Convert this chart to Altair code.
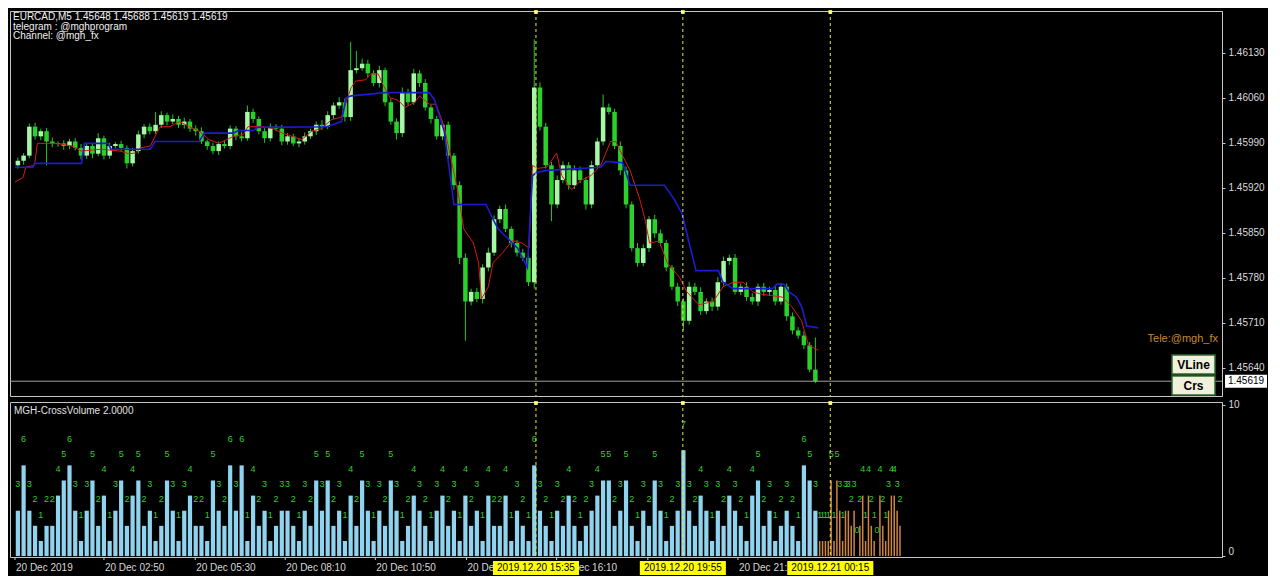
import altair as alt
import pandas as pd

# ---------------- data ----------------
first_open = 1.45955
close = [
    1.45962, 1.45970, 1.46015, 1.46000, 1.46008, 1.45992, 1.45988, 1.45989, 1.45985, 1.45992,
    1.45982, 1.45970, 1.45985, 1.45973, 1.45997, 1.45970, 1.45985, 1.45988, 1.45982, 1.45958,
    1.45977, 1.46003, 1.46015, 1.46008, 1.46018, 1.46033, 1.46023, 1.46027, 1.46018, 1.46023,
    1.46012, 1.46008, 1.45992, 1.45985, 1.45977, 1.45988, 1.45985, 1.46012, 1.46000, 1.45997,
    1.46038, 1.46027, 1.46008, 1.45997, 1.46015, 1.46012, 1.45992, 1.46000, 1.45989, 1.45992,
    1.46000, 1.46008, 1.46018, 1.46015, 1.46033, 1.46048, 1.46053, 1.46030, 1.46103, 1.46106,
    1.46113, 1.46098, 1.46083, 1.46103, 1.46053, 1.46023, 1.46005, 1.46068, 1.46053, 1.46098,
    1.46083, 1.46045, 1.46027, 1.46000, 1.46018, 1.45970, 1.45924, 1.45811, 1.45743, 1.45758,
    1.45747, 1.45796, 1.45819, 1.45871, 1.45887, 1.45856, 1.45834, 1.45819, 1.45811, 1.45773,
    1.46076, 1.46015, 1.45955, 1.45894, 1.45932, 1.45955, 1.45924, 1.45947, 1.45932, 1.45894,
    1.45955, 1.45992, 1.46045, 1.46038, 1.45985, 1.45947, 1.45894, 1.45826, 1.45803, 1.45826,
    1.45871, 1.45849, 1.45834, 1.45796, 1.45766, 1.45743, 1.45713, 1.45766, 1.45758, 1.45728,
    1.45743, 1.45735, 1.45773, 1.45806, 1.45811, 1.45758, 1.45766, 1.45750, 1.45743, 1.45766,
    1.45758, 1.45761, 1.45743, 1.45766, 1.45720, 1.45698, 1.45690, 1.45675, 1.45637, 1.45619,
]
# wick lengths in points (0.00001)
wick_up = [
    5, 4, 5, 6, 4, 5, 6, 3, 5, 4,
    5, 6, 4, 5, 8, 4, 5, 3, 5, 4,
    5, 6, 4, 5, 20, 6, 4, 7, 5, 6,
    4, 5, 6, 3, 5, 4, 6, 5, 4, 7,
    10, 5, 4, 6, 5, 4, 6, 5, 4, 5,
    6, 4, 5, 7, 6, 5, 8, 6, 44, 27,
    8, 6, 5, 7, 4, 6, 5, 8, 6, 7,
    5, 6, 4, 5, 6, 5, 4, 6, 7, 5,
    6, 5, 8, 6, 5, 7, 4, 5, 6, 5,
    75, 8, 6, 5, 7, 6, 5, 8, 6, 5,
    7, 6, 20, 6, 5, 7, 6, 5, 8, 6,
    5, 7, 6, 5, 4, 6, 5, 8, 6, 7,
    5, 6, 8, 7, 5, 6, 5, 7, 6, 5,
    6, 5, 7, 6, 5, 6, 5, 7, 5, 50,
]
wick_dn = [
    5, 6, 4, 5, 6, 37, 5, 4, 6, 5,
    4, 6, 5, 7, 4, 6, 5, 4, 6, 8,
    5, 4, 6, 5, 4, 5, 6, 4, 5, 6,
    5, 7, 4, 6, 5, 6, 4, 5, 6, 5,
    4, 6, 5, 7, 5, 4, 6, 5, 4, 6,
    5, 4, 6, 5, 4, 6, 5, 7, 6, 5,
    4, 6, 5, 7, 6, 5, 10, 6, 5, 4,
    6, 5, 7, 5, 6, 5, 7, 10, 61, 6,
    5, 7, 6, 5, 6, 5, 7, 6, 5, 6,
    10, 6, 5, 26, 6, 5, 7, 6, 5, 8,
    6, 5, 6, 4, 5, 7, 6, 5, 6, 5,
    6, 7, 5, 6, 5, 7, 15, 6, 5, 6,
    5, 7, 6, 5, 6, 4, 5, 6, 5, 7,
    6, 5, 6, 5, 7, 6, 5, 6, 4, 3,
]

red_pos = [-0.5, 0.9, 1.4, 2.9, 3.4, 6.8, 9.4, 11.1, 14.5, 17.9, 19.3, 20.5, 21.4, 23.1, 23.9,
           24.8, 26.5, 28.2, 29.9, 31.6, 33.3, 35.0, 37.6, 39.3, 40.1, 42.7, 44.4, 46.1, 47.8,
           49.5, 51.2, 52.9, 54.7, 56.4, 57.2, 58.1, 58.9, 60.6, 61.5, 62.8, 63.7, 64.9, 66.3,
           67.5, 69.2, 70.0, 71.7, 72.9, 74.3, 76.0, 76.8, 77.7, 79.4, 80.3, 80.8, 82.0, 82.8,
           84.5, 86.2, 87.9, 89.1, 89.7, 90.5, 92.2, 93.9, 94.8, 96.5, 98.2, 99.9, 101.6, 103.3,
           104.2, 105.4, 106.7, 108.4, 109.3, 110.1, 111.8, 113.2, 115.3, 116.6, 118.7, 121.2,
           122.9, 124.7, 126.4, 128.1, 129.8, 133.2, 134.9, 136.6, 137.8, 139.5]
red_val = [1.45929, 1.45936, 1.45952, 1.45955, 1.45989, 1.45989, 1.45985, 1.45977, 1.45980,
           1.45977, 1.45973, 1.45974, 1.45982, 1.45985, 1.46000, 1.46015, 1.46015, 1.46023,
           1.46015, 1.46008, 1.45995, 1.45989, 1.46000, 1.46003, 1.46015, 1.46015, 1.46012,
           1.46005, 1.46000, 1.45995, 1.46008, 1.46012, 1.46026, 1.46030, 1.46053, 1.46076,
           1.46086, 1.46088, 1.46097, 1.46097, 1.46079, 1.46060, 1.46056, 1.46045, 1.46053,
           1.46063, 1.46050, 1.46050, 1.46015, 1.45944, 1.45909, 1.45856, 1.45834, 1.45803,
           1.45747, 1.45766, 1.45803, 1.45819, 1.45838, 1.45834, 1.45826, 1.45955, 1.45950,
           1.45952, 1.45974, 1.45939, 1.45917, 1.45932, 1.45939, 1.45955, 1.45992, 1.45992,
           1.45970, 1.45947, 1.45902, 1.45871, 1.45834, 1.45837, 1.45803, 1.45781, 1.45758,
           1.45738, 1.45743, 1.45766, 1.45773, 1.45773, 1.45758, 1.45754, 1.45750, 1.45735,
           1.45713, 1.45675, 1.45667]

blue_pos = [-0.5, 2.6, 2.9, 11.1, 11.6, 15.7, 16.2, 23.1, 23.9, 31.6, 32.5, 37.6, 38.4, 41.0,
            41.8, 53.8, 56.4, 57.2, 58.1, 64.0, 71.7, 72.6, 74.3, 75.1, 76.0, 81.6, 82.8, 83.7,
            85.4, 87.1, 88.8, 89.7, 90.5, 92.2, 101.6, 102.5, 105.4, 106.7, 112.7, 114.4, 115.8,
            117.0, 118.2, 122.1, 122.9, 124.7, 131.5, 132.3, 133.5, 134.4, 135.7, 136.6, 137.5,
            139.5]
blue_val = [1.45952, 1.45952, 1.45958, 1.45958, 1.45989, 1.45989, 1.45980, 1.45980, 1.45992,
            1.45992, 1.46005, 1.46005, 1.46009, 1.46009, 1.46014, 1.46015, 1.46023, 1.46060,
            1.46063, 1.46068, 1.46068, 1.46057, 1.46008, 1.45955, 1.45894, 1.45894, 1.45871,
            1.45856, 1.45841, 1.45826, 1.45796, 1.45939, 1.45944, 1.45947, 1.45952, 1.45961,
            1.45959, 1.45924, 1.45924, 1.45902, 1.45879, 1.45834, 1.45791, 1.45791, 1.45773,
            1.45763, 1.45763, 1.45770, 1.45770, 1.45758, 1.45750, 1.45735, 1.45705, 1.45702]

vol_blue = [
    3, 6, 3, 2, 1, 2, 2, 4, 5, 6,
    3, 1, 3, 5, 2, 4, 1, 3, 5, 2,
    4, 5, 2, 3, 1, 2, 5, 3, 1, 3,
    4, 2, 2, 1, 5, 3, 2, 6, 3, 6,
    1, 4, 2, 3, 1, 2, 3, 3, 2, 1,
    3, 2, 5, 3, 5, 2, 3, 1, 4, 2,
    5, 3, 1, 3, 2, 5, 3, 1, 2, 4,
    3, 2, 1, 3, 4, 2, 3, 1, 4, 2,
    3, 1, 4, 2, 2, 4, 1, 3, 2, 1,
    6, 3, 2, 1, 3, 2, 4, 2, 1, 2,
    3, 4, 5, 5, 2, 3, 5, 2, 1, 3,
    2, 5, 3, 1, 2, 3, 7, 3, 2, 4,
    3, 1, 3, 2, 4, 3, 2, 1, 4, 5,
    2, 3, 1, 2, 3, 2, 1, 6, 5, 3,
]
vol_orange = [1, 1, 1, 1, 5, 1, 5, 3, 1, 3, 3, 2, 3, 0, 2, 4, 1, 4, 2, 1, 0, 4, 2, 1, 3, 4, 4, 3, 2]

vline_pos = [90.8, 116.4, 142.1]
vline_text = ["2019.12.20 15:35", "2019.12.20 19:55", "2019.12.21 00:15"]
tick_pos = [0, 15.5, 31.4, 47.1, 62.8, 78.7, 94.4, 110.3, 126.0]
tick_text = ["20 Dec 2019", "20 Dec 02:50", "20 Dec 05:30", "20 Dec 08:10", "20 Dec 10:50",
             "20 Dec 13:30", "20 Dec 16:10", "20 Dec 18:50", "20 Dec 21:30"]
price_ticks = [1.46130, 1.46060, 1.45990, 1.45920, 1.45850, 1.45780, 1.45710, 1.45640]
header_text = "EURCAD,M5  1.45648 1.45688 1.45619 1.45619\ntelegram : @mghprogram\nChannel: @mgh_fx"

# ---------------- tables ----------------
opens = [first_open] + close[:-1]
cdf = pd.DataFrame({"pos": [i + 0.5 for i in range(len(close))], "open": opens, "close": close})
cdf["high"] = [max(o, c) + u / 1e5 for o, c, u in zip(opens, close, wick_up)]
cdf["low"] = [min(o, c) - d / 1e5 for o, c, d in zip(opens, close, wick_dn)]
cdf["dir"] = ["up" if c >= o else "down" for o, c in zip(opens, close)]

red_df = pd.DataFrame({"pos": [p + 0.5 for p in red_pos], "val": red_val})
blue_df = pd.DataFrame({"pos": [p + 0.5 for p in blue_pos], "val": blue_val})
vl_df = pd.DataFrame({"pos": vline_pos, "label": vline_text})
last_df = pd.DataFrame({"price": [close[-1]], "label": [f"{close[-1]:.5f}"]})
vb_df = pd.DataFrame({"pos": [i + 0.5 for i in range(len(vol_blue))], "v": vol_blue})
vo_df = pd.DataFrame({"pos": [140.25 + 0.5 * k for k in range(len(vol_orange))], "v": vol_orange})
lab_df = pd.concat([vb_df, vo_df], ignore_index=True)
tick_df = pd.DataFrame({"pos": tick_pos, "label": tick_text})
one = pd.DataFrame({"k": [0]})

# ---------------- layout ----------------
W, H1, H2 = 1212, 385, 155
FONT = "Liberation Sans"
xs = alt.Scale(domain=[0, 209.5], nice=False, zero=False)
ps = alt.Scale(domain=[1.45596, 1.46195], nice=False, zero=False)
vs = alt.Scale(domain=[-0.06, 10.19], nice=False, zero=False)
X = alt.X("pos:Q", scale=xs, axis=None)

price_axis = alt.Axis(orient="right", values=price_ticks, format=".5f", title=None, grid=False,
                      labelColor="#d8d8d8", labelFontSize=10, labelFont=FONT, labelPadding=3,
                      tickColor="#c8c8c8", tickSize=3, domainColor="#c8c8c8")
vol_axis = alt.Axis(orient="right", values=[0, 10], title=None, grid=False, labelFlush=True,
                    labelColor="#d8d8d8", labelFontSize=10, labelFont=FONT, labelPadding=3,
                    tickColor="#c8c8c8", tickSize=3, domainColor="#c8c8c8")


def PY(field):
    return alt.Y(field, scale=ps, axis=price_axis)


def VY(field):
    return alt.Y(field, scale=vs, axis=vol_axis)


dir_color = alt.Color("dir:N", scale=alt.Scale(domain=["up", "down"], range=["#a6f7a6", "#2bd12b"]),
                      legend=None)

wicks = alt.Chart(cdf).mark_rule(strokeWidth=1, color="#26c626").encode(
    x=X, y=PY("low:Q"), y2="high:Q")
bodies = alt.Chart(cdf).mark_bar(size=4.5).encode(
    x=X, y=PY("open:Q"), y2="close:Q", color=dir_color)
red_line = alt.Chart(red_df).mark_line(color="#d81818", strokeWidth=1).encode(x=X, y=PY("val:Q"))
blue_line = alt.Chart(blue_df).mark_line(color="#1c1cd0", strokeWidth=1.6).encode(x=X, y=PY("val:Q"))
hline = alt.Chart(last_df).mark_rule(color="#a0a0a0", strokeWidth=1).encode(y=PY("price:Q"))
vlines_top = alt.Chart(vl_df).mark_rule(color="#e8e84a", strokeDash=[3, 3], strokeWidth=1).encode(x=X)
marks_top = alt.Chart(vl_df).mark_square(size=14, color="#ffff80", opacity=1).encode(x=X, y=alt.value(1))
header = alt.Chart(one).mark_text(align="left", baseline="top", color="#f0f0f0", fontSize=10, font=FONT,
                                  lineBreak="\n", lineHeight=9.5).encode(
    x=alt.value(3), y=alt.value(1), text=alt.value(header_text))
tele = alt.Chart(one).mark_text(align="right", baseline="middle", color="#c88a2e", fontSize=11,
                                font=FONT).encode(x=alt.value(1208), y=alt.value(328),
                                                  text=alt.value("Tele:@mgh_fx"))
btn1 = alt.Chart(one).mark_rect(fill="#f0f0dc", stroke="#2e6b2e", strokeWidth=1.5).encode(
    x=alt.value(1162), x2=alt.value(1205), y=alt.value(344), y2=alt.value(363))
btn2 = alt.Chart(one).mark_rect(fill="#f0f0dc", stroke="#2e6b2e", strokeWidth=1.5).encode(
    x=alt.value(1162), x2=alt.value(1205), y=alt.value(365), y2=alt.value(384))
btn1t = alt.Chart(one).mark_text(color="black", fontSize=12, fontWeight="bold", font=FONT,
                                 baseline="middle").encode(
    x=alt.value(1183.5), y=alt.value(354), text=alt.value("VLine"))
btn2t = alt.Chart(one).mark_text(color="black", fontSize=12, fontWeight="bold", font=FONT,
                                 baseline="middle").encode(
    x=alt.value(1183.5), y=alt.value(375), text=alt.value("Crs"))
pbox = alt.Chart(last_df).mark_point(shape="M-1,-0.31L1,-0.31L1,0.31L-1,0.31Z", size=1764,
                                     filled=True, color="white", opacity=1).encode(
    x=alt.value(W + 24), y=PY("price:Q"))
ptext = alt.Chart(last_df).mark_text(color="black", fontSize=10, font=FONT, baseline="middle").encode(
    x=alt.value(W + 24), y=PY("price:Q"), text="label:N")

top = alt.layer(wicks, bodies, red_line, blue_line, hline, vlines_top, marks_top, header, tele,
                btn1, btn2, btn1t, btn2t, pbox, ptext).properties(width=W, height=H1)

# bottom panel
vbars = alt.Chart(vb_df).mark_bar(size=4.2, color="#8fd3ee").encode(x=X, y=VY("v:Q"))
obars = alt.Chart(vo_df).mark_bar(size=1.5, color="#cd8540").encode(x=X, y=VY("v:Q"))
vlabels = alt.Chart(lab_df).transform_calculate(ly="datum.v + 1.75").mark_text(
    color="#33cc33", fontSize=9, font=FONT, baseline="middle").encode(
    x=X, y=VY("ly:Q"), text="v:N")
vlines_bot = alt.Chart(vl_df).mark_rule(color="#e8e84a", strokeDash=[3, 3], strokeWidth=1).encode(x=X)
marks_bot = alt.Chart(vl_df).mark_square(size=14, color="#ffff80", opacity=1).encode(x=X, y=alt.value(1))
vtitle = alt.Chart(one).mark_text(align="left", baseline="top", color="#e0e0e0", fontSize=10,
                                  font=FONT).encode(x=alt.value(4), y=alt.value(4),
                                                    text=alt.value("MGH-CrossVolume 2.0000"))
tmarks = alt.Chart(tick_df).mark_rule(color="#c8c8c8").encode(x=X, y=alt.value(H2), y2=alt.value(H2 + 3))
tlabels = alt.Chart(tick_df).mark_text(align="left", baseline="middle", color="#d8d8d8", fontSize=10,
                                       font=FONT, dx=1).encode(x=X, y=alt.value(H2 + 11), text="label:N")
ybox = alt.Chart(vl_df).transform_calculate(x1="datum.pos - 7.5", x2="datum.pos + 7.5").mark_rect(
    color="#ffff00").encode(x=alt.X("x1:Q", scale=xs, axis=None), x2="x2:Q",
                            y=alt.value(H2 + 4), y2=alt.value(H2 + 18))
ytext = alt.Chart(vl_df).mark_text(color="black", fontSize=10, font=FONT, baseline="middle").encode(
    x=X, y=alt.value(H2 + 11), text="label:N")

bottom = alt.layer(vbars, obars, vlabels, vlines_bot, marks_bot, vtitle, tmarks, tlabels, ybox,
                   ytext).properties(width=W, height=H2)

chart = alt.vconcat(top, bottom, spacing=2).properties(
    background="black", padding={"left": 1, "top": 1, "right": 0, "bottom": 0}
).configure_view(stroke="#c4c4c4", strokeWidth=1).configure_text(font=FONT)

chart.save("out.html", embed_options={"renderer": "svg", "actions": False})
